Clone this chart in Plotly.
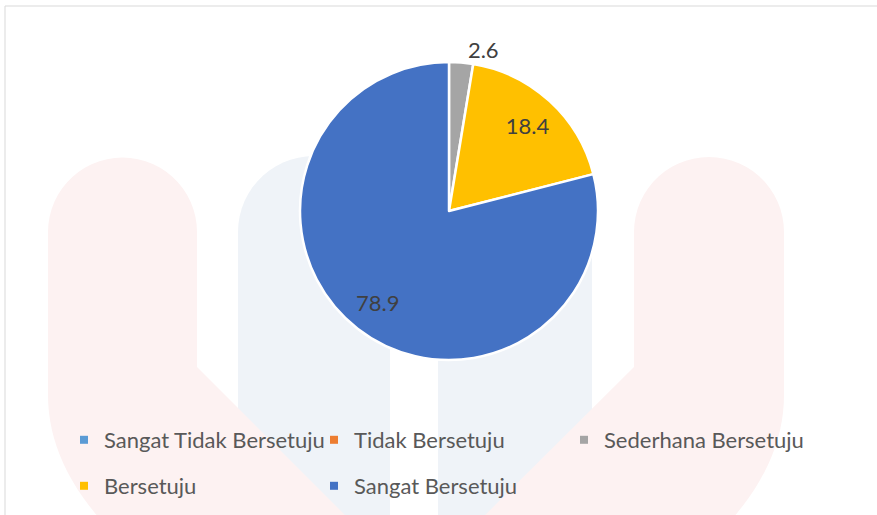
import math
import plotly.graph_objects as go

# ---- data ----
categories = ["Sangat Tidak Bersetuju", "Tidak Bersetuju", "Sederhana Bersetuju",
              "Bersetuju", "Sangat Bersetuju"]
values = [0, 0, 2.6, 18.4, 78.9]
colors = ["#5B9BD5", "#ED7D31", "#A5A5A5", "#FFC000", "#4472C4"]
row1 = categories[:3]
row2 = categories[3:]

W, H = 877, 515
FONT = "Lato"


def px(x, y):
    return x / W, 1 - y / H


def path_from(points):
    s = ""
    for i, (x, y) in enumerate(points):
        u, v = px(x, y)
        s += ("M" if i == 0 else "L") + f"{u:.5f},{v:.5f}"
    return s + "Z"


def arc(cx, cy, r, a0, a1, n=30):
    pts = []
    for k in range(n + 1):
        a = math.radians(a0 + (a1 - a0) * k / n)
        pts.append((cx + r * math.cos(a), cy - r * math.sin(a)))
    return pts


def quad(p0, c, p1, n=16):
    pts = []
    for k in range(n + 1):
        t = k / n
        x = (1 - t) ** 2 * p0[0] + 2 * (1 - t) * t * c[0] + t * t * p1[0]
        y = (1 - t) ** 2 * p0[1] + 2 * (1 - t) * t * c[1] + t * t * p1[1]
        pts.append((x, y))
    return pts


shapes = []
blue_wm = "#EFF3F8"
red_wm = "#FDF2F2"
# faint background watermark: blue bars
for (x0, x1) in [(238, 390), (438, 592)]:
    cxw, r = (x0 + x1) / 2, (x1 - x0) / 2
    pts = arc(cxw, 232, r, 180, 0) + [(x1, 530), (x0, 530)]
    shapes.append(dict(type="path", xref="paper", yref="paper", path=path_from(pts),
                       fillcolor=blue_wm, line=dict(width=0), layer="below"))
# faint background watermark: red shapes
ptsL = arc(122.5, 232, 74.5, 180, 0) + [(197, 367), (360, 530)] + \
    quad((110, 530), (48, 465), (48, 395)) + [(48, 232)]
ptsR = arc(709, 232, 75, 180, 0) + [(784, 395)] + quad((784, 395), (784, 465), (722, 530)) + \
    [(470, 530), (634, 367)]
for pts in (ptsL, ptsR):
    shapes.append(dict(type="path", xref="paper", yref="paper", path=path_from(pts),
                       fillcolor=red_wm, line=dict(width=0), layer="below"))
# chart frame
shapes.append(dict(type="rect", xref="paper", yref="paper",
                   x0=5 / W, y0=1 - 520 / H, x1=880 / W, y1=1 - 6 / H,
                   line=dict(color="#D9D9D9", width=1), fillcolor="rgba(0,0,0,0)",
                   layer="below"))

fig = go.Figure()

cx, cy, R = 449, 211, 149
domain = dict(x=[(cx - R) / W, (cx + R) / W], y=[1 - (cy + R) / H, 1 - (cy - R) / H])

# main pie (slices)
fig.add_trace(go.Pie(
    labels=categories, values=values, sort=False, direction="clockwise", rotation=0,
    marker=dict(colors=colors, line=dict(color="white", width=2.5)),
    textinfo="none", showlegend=False, hoverinfo="label+value", domain=domain,
))

# label layer: same data, transparent ring so inside labels sit further out
text = [f"{v}" if v > 0 else "" for v in values]
textpos = ["outside" if v < 5 else "inside" for v in values]
fig.add_trace(go.Pie(
    labels=categories, values=values, sort=False, direction="clockwise", rotation=0,
    hole=0.56,
    marker=dict(colors=["rgba(0,0,0,0)"] * len(values), line=dict(width=0)),
    text=text, textinfo="text", textposition=textpos,
    insidetextorientation="horizontal",
    textfont=dict(family=FONT, size=22, color="#404040"),
    showlegend=False, hoverinfo="skip", domain=domain,
))

# legend entries (one per category, two legend rows)
for cat, col in zip(categories, colors):
    fig.add_trace(go.Scatter(
        x=[None], y=[None], mode="markers", name=cat,
        marker=dict(symbol="square", size=8, color=col),
        legend="legend" if cat in row1 else "legend2",
        showlegend=True, hoverinfo="skip",
    ))

leg_common = dict(orientation="h", entrywidth=205, entrywidthmode="pixels",
                  font=dict(family=FONT, size=22, color="#595959"),
                  xanchor="left", yanchor="middle", bgcolor="rgba(0,0,0,0)",
                  itemclick=False, itemdoubleclick=False)

fig.update_layout(
    width=W, height=H,
    margin=dict(l=0, r=0, t=0, b=0),
    paper_bgcolor="white", plot_bgcolor="rgba(0,0,0,0)",
    xaxis=dict(visible=False), yaxis=dict(visible=False),
    shapes=shapes,
    legend=dict(x=64 / W, y=1 - 440 / H, **leg_common),
    legend2=dict(x=64 / W, y=1 - 486 / H, **leg_common),
    hovermode=False,
)

fig.write_html("out.html", config={"displayModeBar": False},
               post_script="document.body.style.margin='0';")
